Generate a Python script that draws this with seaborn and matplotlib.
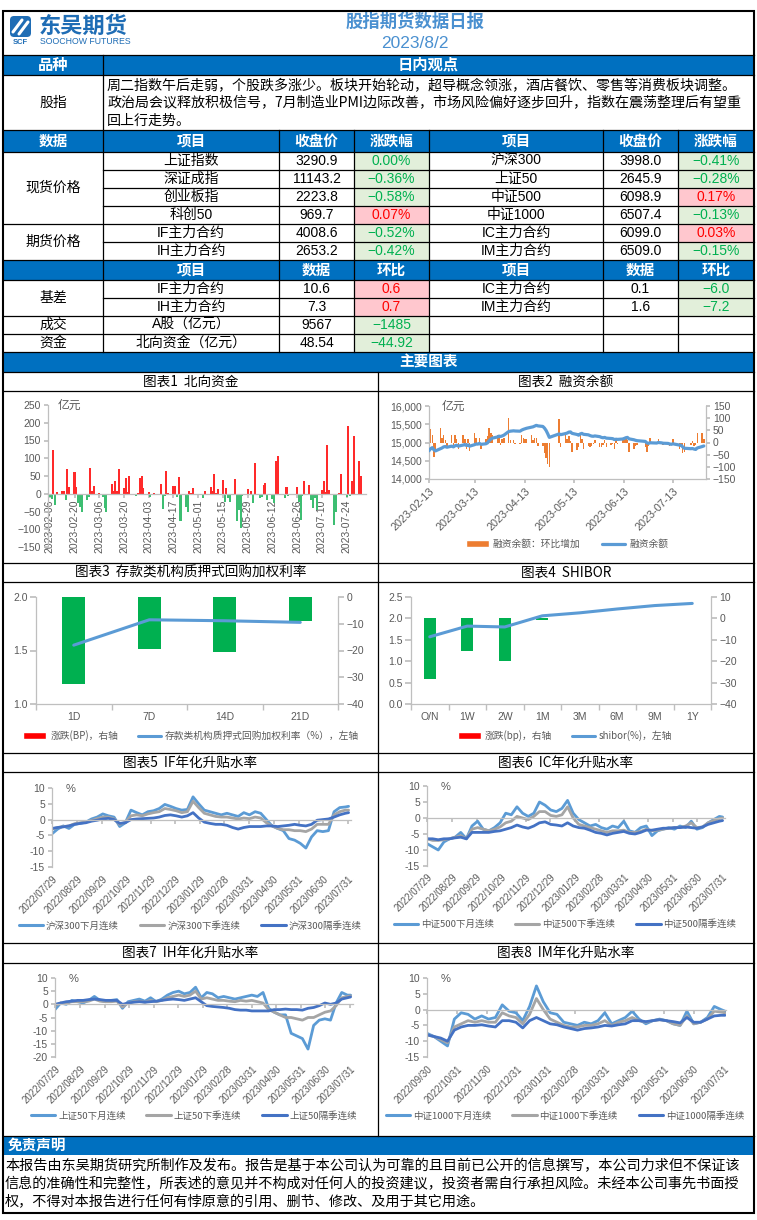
import numpy as np
import pandas as pd
import matplotlib
matplotlib.use('Agg')
import matplotlib.pyplot as plt
import matplotlib.dates as mdates
from matplotlib.patches import Rectangle, Patch, FancyBboxPatch
from matplotlib.lines import Line2D
from matplotlib.ticker import MultipleLocator, FuncFormatter
import seaborn as sns

# ====================== DATA ======================
report_title = '股指期货数据日报'
report_date = '2023/8/2'
view_lines = ['周二指数午后走弱，个股跌多涨少。板块开始轮动，超导概念领涨，酒店餐饮、零售等消费板块调整。',
              '政治局会议释放积极信号，7月制造业PMI边际改善，市场风险偏好逐步回升，指数在震荡整理后有望重',
              '回上行走势。']

hdr_price = ['数据', '项目', '收盘价', '涨跌幅', '项目', '收盘价', '涨跌幅']
hdr_basis = ['', '项目', '数据', '环比', '项目', '数据', '环比']

spot_l_name = ['上证指数', '深证成指', '创业板指', '科创50']
spot_l_close = ['3290.9', '11143.2', '2223.8', '969.7']
spot_l_chg = [0.00, -0.36, -0.58, 0.07]
spot_r_name = ['沪深300', '上证50', '中证500', '中证1000']
spot_r_close = ['3998.0', '2645.9', '6098.9', '6507.4']
spot_r_chg = [-0.41, -0.28, 0.17, -0.13]
fut_l_name = ['IF主力合约', 'IH主力合约']
fut_l_close = ['4008.6', '2653.2']
fut_l_chg = [-0.52, -0.42]
fut_r_name = ['IC主力合约', 'IM主力合约']
fut_r_close = ['6099.0', '6509.0']
fut_r_chg = [0.03, -0.15]
basis_l_name = ['IF主力合约', 'IH主力合约']
basis_l_val = ['10.6', '7.3']
basis_l_chg = [0.6, 0.7]
basis_r_name = ['IC主力合约', 'IM主力合约']
basis_r_val = ['0.1', '1.6']
basis_r_chg = [-6.0, -7.2]
misc_group = ['成交', '资金']
misc_name = ['A股（亿元）', '北向资金（亿元）']
misc_val = ['9567', '48.54']
misc_chg = [-1485, -44.92]

# Chart 1: northbound flow (亿元), one value per trading day 2023-02-06 .. 2023-08-01
nb_holidays = ['2023-04-05', '2023-05-01', '2023-05-02', '2023-05-03', '2023-06-22', '2023-06-23']
nb_flow = [-10, -14, 122, -33, 4,
           7, 7, -19, 70, 20,
           60, 19, -26, -36, -50,
           -17, -10, 72, 8, 21,
           3, -3, -9, -41, -52,
           28, 8, 35, 8, 71,
           16, 43, 4, 49, -3,
           -6, 2, 43, 49, 16,
           5, -8, 2, -3,
           27, -42, -5, 65, 3,
           21, 23, -8, 47, -76,
           -38, -50, 8, 3, 16,
           -12, 8,
           19, 9, 56, 2, 13,
           40, -22, 16, -12, -22,
           42, -78, -45, -97, -5,
           13, -3, 7, -26, 86,
           -12, -8, 24, 30, -17,
           -15, -25, 93, 106, -3,
           -12, 18, -6,
           19, -22, -75, -5, 36,
           25, -17, -41, -12, -45,
           11, 35, 5, 136, 11,
           -88, -50, -3, 2, 57,
           -8, 191, -7, 37, 164,
           93, 49]
nb_ticks = ['2023-02-06', '2023-02-20', '2023-03-06', '2023-03-20', '2023-04-03', '2023-04-17',
            '2023-05-01', '2023-05-15', '2023-05-29', '2023-06-12', '2023-06-26', '2023-07-10', '2023-07-24']

# Chart 2: margin financing balance (亿元), trading days 2023-02-10 .. 2023-08-01
fin_balance = [14720,
               14775, 14830, 14860, 14800, 14770, 14830, 14850, 14880, 14890, 14870, 14900, 14880,
               14910, 14925, 14900, 14930, 14945, 14920, 14935, 14900, 14940, 14960, 14955, 14975,
               14950, 14965, 14990, 15050, 15090, 15120, 15150, 15175, 15165, 15180, 15200,
               15300, 15310, 15320, 15315, 15310, 15340, 15360, 15375, 15390, 15420, 15430, 15450,
               15470, 15455, 15440, 15395, 15330, 15240, 15140,
               15235, 15215, 15245, 15260, 15285, 15290, 15250, 15220, 15200, 15235, 15250, 15225,
               15210, 15190, 15175, 15170, 15180, 15160, 15140, 15130,
               15140, 15120, 15110, 15105, 15080, 15090, 15085, 15095, 15110, 15130, 15140, 15100,
               15075, 15060, 15050, 15030, 14990, 14975, 14995, 14990,
               14985, 15000, 14995, 14990, 14980, 14975, 14960, 14950, 14965, 14955, 14930, 14925,
               14880, 14840, 14840, 14830, 14835, 14820, 14810, 14850, 14890,
               14905]
fin_ticks = ['2023-02-13', '2023-03-13', '2023-04-13', '2023-05-13', '2023-06-13', '2023-07-13']

# Chart 3: deposit-institution pledged repo weighted rate
dep_terms = ['1D', '7D', '14D', '21D']
dep_rate = [1.55, 1.787, 1.778, 1.763]
dep_chg_bp = [-32.6, -19.5, -20.6, -9.0]

# Chart 4: SHIBOR
shibor_terms = ['O/N', '1W', '2W', '1M', '3M', '6M', '9M', '1Y']
shibor_rate = [1.57, 1.82, 1.80, 2.06, 2.13, 2.22, 2.30, 2.35]
shibor_chg_bp = [-28.5, -15.3, -20.0, -0.9, 0.3, 0.0, 0.0, 0.0]

# Charts 5-7: weekly samples from 2022-07-29, last point 2023-08-01 (annualised basis, %)
if_next_month = [-4.5, -3.0, -2.0, -2.8, -1.5, -1.2, -0.8, 0.2, 0.8, 1.8,
                 1.2, 0.8, -2.2, -1.0, 3.0, 2.2, 1.5, 2.5, 2.8, 3.5,
                 4.8, 4.2, 3.5, 3.0, 3.2, 7.2, 5.0, 3.0, 2.5, 2.0,
                 1.5, 2.0, 1.5, 1.0, 2.2, 1.5, 2.5, 2.0, 0.0, -2.0,
                 -2.8, -3.5, -6.0, -6.5, -7.5, -9.0, -5.5, -3.5, -3.8, -3.5,
                 2.5, 3.8, 4.0, 4.2]
if_next_quarter = [-3.0, -2.5, -2.2, -2.0, -1.3, -1.0, -0.8, -0.3, 0.3, 0.8,
                   0.8, 0.2, -1.5, -0.8, 1.2, 1.5, 1.2, 1.8, 2.2, 2.5,
                   3.5, 3.2, 2.8, 2.2, 2.5, 5.8, 3.8, 2.0, 1.5, 1.0,
                   0.8, 0.8, 0.5, 0.2, 0.5, 0.3, 0.8, 0.5, -1.0, -2.0,
                   -2.8, -3.2, -3.2, -3.5, -3.5, -3.8, -3.0, -1.5, -1.5, -1.5,
                   1.5, 2.5, 3.0, 3.0]
if_far_quarter = [-2.8, -2.5, -2.3, -2.0, -1.5, -1.2, -1.0, -0.5, -0.2, 0.2,
                  0.4, 0.0, -1.2, -1.0, 0.0, 0.2, 0.3, 0.4, 0.5, 0.8,
                  1.3, 1.5, 1.2, 0.8, 1.2, 2.2, 0.5, -0.8, -1.2, -1.5,
                  -1.5, -1.8, -2.5, -3.0, -2.5, -2.2, -2.2, -2.2, -2.0, -2.0,
                  -2.2, -2.0, -1.8, -1.5, -1.8, -2.0, -1.5, -0.2, 0.0, 0.2,
                  0.8, 1.5, 2.0, 2.2]
ic_next_month = [-8.0, -9.0, -10.0, -7.5, -6.5, -6.0, -4.5, -6.5, -2.5, -1.0,
                 -3.5, -4.0, -3.0, -1.5, 1.5, 1.0, 3.5, 1.5, 0.5, 1.5,
                 5.0, 4.0, 2.5, 2.0, 3.0, 5.5, 1.5, -0.5, -1.5, -2.5,
                 -2.0, -3.0, -3.5, -2.5, -3.0, -1.0, -4.0, -4.5, -3.0, -2.5,
                 -5.5, -4.0, -3.5, -3.0, -3.5, -2.5, -3.0, -1.0, -3.5, -3.0,
                 -1.5, -0.5, 0.5, 0.3]
ic_next_quarter = [-6.5, -7.0, -7.0, -6.8, -6.5, -6.0, -5.5, -6.5, -3.5, -3.0,
                   -3.5, -4.0, -3.5, -2.8, -1.5, -1.0, 0.5, 0.0, -0.5, 0.5,
                   2.0, 2.0, 0.8, 0.5, 1.0, 3.5, 0.0, -2.0, -2.5, -3.0,
                   -3.5, -4.0, -4.5, -4.0, -4.0, -3.8, -4.5, -4.5, -4.2, -3.5,
                   -4.0, -3.8, -3.5, -3.2, -3.0, -3.0, -2.5, -1.5, -3.0, -2.8,
                   -1.5, -0.8, -0.2, 0.0]
ic_far_quarter = [-6.5, -6.5, -6.8, -6.5, -6.5, -6.2, -6.0, -6.5, -4.5, -4.5,
                  -4.5, -4.5, -4.2, -4.0, -3.5, -3.0, -2.2, -2.8, -3.2, -2.5,
                  -1.5, -1.2, -2.0, -2.2, -2.5, -1.5, -2.5, -3.0, -3.2, -3.8,
                  -4.5, -4.8, -5.3, -4.8, -4.5, -4.2, -4.8, -5.0, -4.5, -3.8,
                  -3.8, -3.5, -3.2, -3.2, -3.0, -3.0, -2.8, -3.0, -3.2, -2.8,
                  -2.0, -1.5, -1.0, -0.8]
ih_next_month = [-2.0, 0.5, 0.0, 1.5, 1.0, 0.5, 1.5, 3.0, 1.5, 1.0,
                 1.5, 1.8, -1.5, 1.0, 1.5, 2.0, 1.2, 2.5, 1.0, 2.0,
                 3.5, 4.5, 5.0, 4.0, 4.5, 6.5, 2.5, 4.5, 4.0, 2.5,
                 3.0, 2.5, 2.0, 2.5, 3.0, 3.5, 3.0, 4.5, -1.5, -3.0,
                 -4.0, -4.0, -11.0, -12.0, -13.0, -17.0, -8.0, -6.0, -5.5, -6.0,
                 0.5, 4.5, 3.5, 3.5]
ih_next_quarter = [-0.5, 0.5, 0.5, 1.0, 1.0, 1.0, 1.2, 2.0, 1.2, 1.0,
                   1.0, 1.2, -1.0, 0.5, 1.0, 1.2, 0.8, 1.5, 1.0, 1.5,
                   2.5, 3.0, 3.5, 3.0, 3.5, 5.0, 2.0, 2.5, 2.0, 1.5,
                   1.5, 1.2, 1.0, 1.5, 1.2, 1.5, 1.0, 0.5, -2.0, -3.0,
                   -4.0, -5.0, -5.0, -5.5, -6.0, -5.0, -5.0, -4.0, -3.0, -2.5,
                   -0.5, 2.5, 3.0, 3.2]
ih_far_quarter = [0.0, 0.5, 1.0, 1.2, 1.5, 1.5, 1.8, 2.0, 1.8, 1.5,
                  1.5, 1.5, 0.0, 0.5, 0.8, 1.0, 0.8, 1.0, 1.2, 1.5,
                  1.8, 2.0, 1.8, 1.5, 2.0, 2.5, 1.0, -0.5, -0.8, -1.0,
                  -1.2, -1.5, -2.0, -2.2, -2.2, -2.5, -2.5, -2.5, -2.5, -2.0,
                  -2.0, -1.8, -2.0, -2.0, -2.2, -1.5, -1.2, -0.5, 0.5, 0.0,
                  0.5, 2.0, 2.5, 2.8]
# Chart 8: weekly samples from 2022-09-30, last point 2023-08-01
im_next_month = [-7.5, -8.5, -10.0, -11.5, -3.0, -1.0, -1.5, -3.0, -2.0, -3.0,
                 -2.5, 1.5, -0.5, -1.0, -3.5, 1.0, 7.5, 2.5, -1.0, -1.5,
                 -4.0, -4.5, -5.0, -4.0, -4.5, -3.5, -1.0, -4.5, -3.5, -2.5,
                 -0.5, -3.0, -4.5, -3.5, -3.0, -3.5, -4.5, -5.0, -0.5, -4.5,
                 -4.0, -2.5, 1.0, 0.0, -0.5]
im_next_quarter = [-8.0, -8.5, -9.5, -10.5, -5.5, -4.5, -3.5, -4.0, -3.5, -4.0,
                   -4.0, -1.0, -2.0, -2.5, -4.5, -1.5, 3.5, 0.0, -3.0, -4.0,
                   -5.0, -5.5, -5.5, -5.0, -5.0, -4.5, -3.5, -5.0, -4.0, -3.5,
                   -2.5, -3.5, -4.0, -3.5, -3.2, -3.5, -4.5, -5.0, -2.0, -4.5,
                   -4.0, -3.0, -0.5, -0.8, -1.0]
im_far_quarter = [-8.0, -8.5, -9.0, -10.0, -6.5, -5.5, -5.0, -5.0, -4.8, -5.2,
                  -5.5, -3.5, -3.5, -4.0, -5.8, -3.5, -2.5, -3.5, -4.5, -4.8,
                  -5.5, -6.0, -6.5, -6.0, -5.8, -5.5, -5.0, -5.2, -4.8, -4.5,
                  -3.5, -3.5, -3.8, -3.5, -3.2, -3.5, -3.8, -4.2, -2.5, -4.0,
                  -4.0, -3.0, -2.0, -1.8, -1.8]
ticks_5to7 = ['2022-07-29', '2022-08-29', '2022-09-29', '2022-10-29', '2022-11-29', '2022-12-29',
              '2023-01-29', '2023-02-28', '2023-03-31', '2023-04-30', '2023-05-31', '2023-06-30', '2023-07-31']
ticks_8 = ['2022-09-30', '2022-10-31', '2022-11-30', '2022-12-31', '2023-01-31', '2023-02-28',
           '2023-03-31', '2023-04-30', '2023-05-31', '2023-06-30', '2023-07-31']

chart_titles = ['图表1  北向资金', '图表2  融资余额', '图表3  存款类机构质押式回购加权利率', '图表4  SHIBOR',
                '图表5  IF年化升贴水率', '图表6  IC年化升贴水率', '图表7  IH年化升贴水率', '图表8  IM年化升贴水率']
disclaimer = ['本报告由东吴期货研究所制作及发布。报告是基于本公司认为可靠的且目前已公开的信息撰写，本公司力求但不保证该',
              '信息的准确性和完整性，所表述的意见并不构成对任何人的投资建议，投资者需自行承担风险。未经本公司事先书面授',
              '权，不得对本报告进行任何有悖原意的引用、删节、修改、及用于其它用途。']

# ====================== DERIVED ======================
nb_dates = pd.bdate_range('2023-02-06', '2023-08-01').drop(pd.to_datetime(nb_holidays))
fin_dates = pd.bdate_range('2023-02-10', '2023-08-01').drop(pd.to_datetime(nb_holidays))
fin_change = np.diff(fin_balance)
wk_dates = pd.date_range('2022-07-29', '2023-07-28', freq='7D').append(pd.DatetimeIndex(['2023-08-01']))
wk_dates8 = pd.date_range('2022-09-30', '2023-07-28', freq='7D').append(pd.DatetimeIndex(['2023-08-01']))

# ====================== STYLE ======================
sns.set_theme(style='white')
plt.rcParams['font.family'] = ['Liberation Sans', 'Noto Sans CJK SC', 'DejaVu Sans']
plt.rcParams['axes.unicode_minus'] = True

BLUE = '#0070C0'
TG = '#595959'
AXC = '#BFBFBF'
UP = '#FF0000'
DN = '#00B050'
CJK = ['Noto Sans CJK SC', 'DejaVu Sans']
L_LIGHT, L_GRAY, L_DARK = '#5B9BD5', '#A5A5A5', '#4472C4'

W, H = 757, 1220
fig = plt.figure(figsize=(W / 100, H / 100), dpi=100)
fig.patch.set_facecolor('white')
bg = fig.add_axes([0, 0, 1, 1], facecolor='white')
bg.set_xlim(0, W)
bg.set_ylim(H, 0)
bg.axis('off')


def rect(x0, y0, x1, y1, fc):
    bg.add_patch(Rectangle((x0, y0), x1 - x0, y1 - y0, facecolor=fc, edgecolor='none', zorder=1))


def hl(y, x0=3, x1=754, lw=0.9):
    bg.plot([x0, x1], [y, y], color='black', lw=lw, zorder=3, solid_capstyle='projecting')


def vl(x, y0, y1, lw=0.9):
    bg.plot([x, x], [y0, y1], color='black', lw=lw, zorder=3, solid_capstyle='projecting')


def put(x, y, s, size=10, color='black', ha='center', weight='normal', family=None):
    kw = dict(fontsize=size, color=color, ha=ha, va='center', fontweight=weight, zorder=4)
    if family:
        kw['fontfamily'] = family
    bg.text(x, y, s, **kw)


def place(x0, y0, x1, y1):
    return fig.add_axes([x0 / W, 1 - y1 / H, (x1 - x0) / W, (y1 - y0) / H], facecolor='none')


def signed(v, fmt):
    s = format(abs(v), fmt)
    return ('\u2212' + s) if v < 0 else s


# ---------------- header ----------------
bg.add_patch(FancyBboxPatch((10, 16), 21, 21, boxstyle='round,pad=0,rounding_size=4',
                            facecolor='#1F6DB5', edgecolor='none', zorder=2))
bg.plot([13, 22], [32, 20], color='white', lw=2.2, zorder=3)
bg.plot([19, 28], [34, 22], color='white', lw=2.2, zorder=3)
put(20.5, 42.5, 'SCF', 5.5, '#1F6DB5', weight='bold', family='Liberation Sans')
put(39, 26, '东吴期货', 16, '#1F6DB5', ha='left', weight='bold', family=CJK)
put(39.5, 41.5, 'SOOCHOW FUTURES', 6.3, '#1F6DB5', ha='left', family='Liberation Sans')
put(415, 22, report_title, 12.5, '#4A90D0', weight='bold', family=CJK)
put(415, 43, report_date, 12.5, '#4A90D0')

# ---------------- blue bands ----------------
for (y0, y1) in [(55, 75), (130, 152), (260, 280), (352, 372), (1136, 1155)]:
    rect(3, y0, 754, y1, BLUE)

COLS = [3, 103, 279, 354, 429, 603, 678, 754]


def cx(i):
    return (COLS[i] + COLS[i + 1]) / 2


put(cx(0), 65, '品种', 11, 'white', weight='bold', family=CJK)
put((103 + 754) / 2, 65, '日内观点', 11, 'white', weight='bold', family=CJK)
for i, ln in enumerate(view_lines):
    put(107, 86.5 + i * 17, ln, 10.1, ha='left', family=CJK)
put(cx(0), 103, '股指', 10, family=CJK)

for i, h in enumerate(hdr_price):
    put(cx(i), 141, h, 10.5, 'white', weight='bold', family=CJK)
for i, h in enumerate(hdr_basis):
    if h:
        put(cx(i), 270, h, 10.5, 'white', weight='bold', family=CJK)
put((103 + 754) / 2, 362, '主要图表', 10.5, 'white', weight='bold', family=CJK)
put(8, 1145.5, '免责声明', 10.5, 'white', ha='left', weight='bold', family=CJK)


def cell_chg(col, y0, y1, v, txt):
    up = v > 0
    rect(COLS[col], y0, COLS[col + 1], y1, '#FFC7CE' if up else '#E2EFDA')
    put(cx(col), (y0 + y1) / 2, txt, 10, UP if up else DN)


row_edges = [(152, 170), (170, 188), (188, 206), (206, 224)]
for i, (y0, y1) in enumerate(row_edges):
    yc = (y0 + y1) / 2
    put(cx(1), yc, spot_l_name[i], 10)
    put(cx(2), yc, spot_l_close[i], 10)
    cell_chg(3, y0, y1, spot_l_chg[i], signed(spot_l_chg[i], '.2f') + '%')
    put(cx(4), yc, spot_r_name[i], 10)
    put(cx(5), yc, spot_r_close[i], 10)
    cell_chg(6, y0, y1, spot_r_chg[i], signed(spot_r_chg[i], '.2f') + '%')
for i, (y0, y1) in enumerate([(224, 242), (242, 260)]):
    yc = (y0 + y1) / 2
    put(cx(1), yc, fut_l_name[i], 10)
    put(cx(2), yc, fut_l_close[i], 10)
    cell_chg(3, y0, y1, fut_l_chg[i], signed(fut_l_chg[i], '.2f') + '%')
    put(cx(4), yc, fut_r_name[i], 10)
    put(cx(5), yc, fut_r_close[i], 10)
    cell_chg(6, y0, y1, fut_r_chg[i], signed(fut_r_chg[i], '.2f') + '%')
for i, (y0, y1) in enumerate([(280, 298), (298, 316)]):
    yc = (y0 + y1) / 2
    put(cx(1), yc, basis_l_name[i], 10)
    put(cx(2), yc, basis_l_val[i], 10)
    cell_chg(3, y0, y1, basis_l_chg[i], signed(basis_l_chg[i], '.1f'))
    put(cx(4), yc, basis_r_name[i], 10)
    put(cx(5), yc, basis_r_val[i], 10)
    cell_chg(6, y0, y1, basis_r_chg[i], signed(basis_r_chg[i], '.1f'))
for i, (y0, y1) in enumerate([(316, 334), (334, 352)]):
    yc = (y0 + y1) / 2
    put(cx(0), yc, misc_group[i], 10)
    put(cx(1), yc, misc_name[i], 10)
    put(cx(2), yc, misc_val[i], 10)
    cell_chg(3, y0, y1, misc_chg[i], signed(misc_chg[i], 'g'))
put(cx(0), 188, '现货价格', 10)
put(cx(0), 242, '期货价格', 10)
put(cx(0), 298, '基差', 10)

# grid
for y in [55, 75, 130, 152, 224, 260, 280, 316, 334, 352, 372]:
    hl(y)
for y in [170, 188, 206, 242, 298]:
    hl(y, 103, 754)
vl(103, 55, 352)
for x in [279, 354, 429, 603, 678]:
    vl(x, 130, 352)
for y in [391, 563, 582, 753, 772, 943, 963, 1136]:
    hl(y)
vl(378, 372, 1136)
bg.add_patch(Rectangle((3, 11), 751, 1202, facecolor='none', edgecolor='black', lw=1.5, zorder=5))

# chart titles
tpos = [(190.5, 382), (566, 382), (190.5, 573), (566, 573), (190.5, 763), (566, 763), (190.5, 953), (566, 953)]
for (x, y), t in zip(tpos, chart_titles):
    put(x, y, t, 9.8, family=CJK)

# disclaimer
for i, ln in enumerate(disclaimer):
    put(5, 1166 + i * 18, ln, 10.2, ha='left', family=CJK)


def base_style(ax, left=True, right=False):
    ax.spines['top'].set_visible(False)
    ax.spines['left'].set_visible(left)
    ax.spines['right'].set_visible(right)
    for s in ['left', 'right', 'bottom']:
        ax.spines[s].set_color(AXC)
        ax.spines[s].set_linewidth(0.9)
    ax.set_xlabel('')
    ax.set_ylabel('')
    ax.grid(False)


# ---------------- Chart 1 ----------------
ax1 = place(48, 405, 366, 547)
ax1.bar(nb_dates, nb_flow, width=1.15, color=['#FF2A2A' if v > 0 else '#3DBE72' for v in nb_flow], lw=0, zorder=2)
ax1.set_ylim(-150, 250)
ax1.yaxis.set_major_locator(MultipleLocator(50))
ax1.set_xlim(pd.Timestamp('2023-02-05'), pd.Timestamp('2023-08-04'))
ax1.set_xticks(pd.to_datetime(nb_ticks))
ax1.xaxis.set_major_formatter(mdates.DateFormatter('%Y-%m-%d'))
ax1.spines['bottom'].set_position(('data', 0))
base_style(ax1)
ax1.tick_params(axis='y', left=True, labelsize=7.5, labelcolor=TG, length=3, color=AXC, pad=2)
ax1.tick_params(axis='x', bottom=True, labelsize=7.5, labelcolor=TG, length=3, color=AXC, labelrotation=90, pad=1)
for lab in ax1.get_xticklabels():
    lab.set_va('top')
ax1.text(0.03, 1.0, '亿元', transform=ax1.transAxes, fontsize=8.5, color=TG, va='center', ha='left', fontfamily=CJK)

# ---------------- Chart 2 ----------------
ax2 = place(429, 406, 706, 479)
ax2.bar(fin_dates[1:], fin_change, width=0.9, color='#ED7D31', lw=0, zorder=2)
ax2.set_ylim(-150, 150)
ax2.yaxis.set_major_locator(MultipleLocator(50))
ax2.yaxis.tick_right()
ax2b = ax2.twinx()
sns.lineplot(x=fin_dates, y=fin_balance, ax=ax2b, color=L_LIGHT, lw=2.3)
ax2b.set_ylim(14000, 16000)
ax2b.yaxis.set_major_locator(MultipleLocator(500))
ax2b.yaxis.set_major_formatter(FuncFormatter(lambda v, p: f'{v:,.0f}'))
ax2b.yaxis.tick_left()
ax2.set_xlim(pd.Timestamp('2023-02-13'), pd.Timestamp('2023-08-02 08:00'))
ax2.set_xticks(pd.to_datetime(fin_ticks))
ax2.xaxis.set_major_formatter(mdates.DateFormatter('%Y-%m-%d'))
base_style(ax2, left=True, right=True)
base_style(ax2b, left=False, right=False)
ax2b.spines['bottom'].set_visible(False)
ax2.tick_params(axis='y', right=True, left=False, labelright=True, labelleft=False,
                labelsize=7.5, labelcolor=TG, length=3, color=AXC, pad=2)
ax2b.tick_params(axis='y', left=True, right=False, labelleft=True, labelright=False,
                 labelsize=7.5, labelcolor=TG, length=3, color=AXC, pad=2)
ax2.tick_params(axis='x', bottom=True, labelsize=7.8, labelcolor=TG, length=3, color=AXC, pad=2)
for lab in ax2.get_xticklabels():
    lab.set_rotation(45)
    lab.set_ha('right')
    lab.set_va('top')
    lab.set_rotation_mode('anchor')
ax2b.text(0.045, 1.0, '亿元', transform=ax2b.transAxes, fontsize=8.5, color=TG, va='center', ha='left',
          fontfamily=CJK)
fig.legend(handles=[Patch(facecolor='#ED7D31'), Line2D([], [], color=L_LIGHT, lw=2.3)],
           labels=['融资余额：环比增加', '融资余额'], loc='center', bbox_to_anchor=(567 / W, 1 - 544 / H),
           ncol=2, frameon=False, prop={'family': CJK, 'size': 7}, handlelength=2.4, handleheight=0.7,
           columnspacing=2.2, handletextpad=0.4, labelcolor=TG)


# ---------------- Charts 3 & 4 ----------------
def cat_chart(box, terms, rate, chg, rlim, rstep, llim, lstep, legend_labels, legend_cx, bar_w):
    ax = place(*box)
    sns.barplot(x=terms, y=chg, ax=ax, color=DN, width=bar_w, saturation=1, zorder=2)
    for p, v in zip(ax.patches, chg):
        p.set_facecolor(UP if v > 0 else DN)
        p.set_edgecolor('none')
    ax.set_ylim(*rlim)
    ax.yaxis.set_major_locator(MultipleLocator(rstep))
    ax.yaxis.tick_right()
    axb = ax.twinx()
    sns.lineplot(x=np.arange(len(terms)), y=rate, ax=axb, color=L_LIGHT, lw=2.2)
    axb.set_ylim(*llim)
    axb.yaxis.set_major_locator(MultipleLocator(lstep))
    axb.yaxis.set_major_formatter(FuncFormatter(lambda v, p: f'{v:.1f}'))
    axb.yaxis.tick_left()
    ax.set_xlim(-0.5, len(terms) - 0.5)
    ax.set_xticks(np.arange(len(terms)))
    ax.set_xticklabels(terms)
    ax.set_xticks(np.arange(-0.5, len(terms), 1.0), minor=True)
    base_style(ax, left=True, right=True)
    base_style(axb, left=False, right=False)
    axb.spines['bottom'].set_visible(False)
    ax.tick_params(axis='y', right=True, left=False, labelright=True, labelleft=False,
                   labelsize=7.5, labelcolor=TG, length=4, color=AXC, pad=2)
    axb.tick_params(axis='y', left=True, right=False, labelleft=True, labelright=False,
                    labelsize=7.5, labelcolor=TG, length=4, color=AXC, pad=2)
    ax.tick_params(axis='x', which='major', bottom=True, length=0, labelsize=7.5, labelcolor=TG, pad=6)
    ax.tick_params(axis='x', which='minor', bottom=True, length=4, color=AXC)
    fig.legend(handles=[Patch(facecolor=UP), Line2D([], [], color=L_LIGHT, lw=2.2)],
               labels=legend_labels, loc='center', bbox_to_anchor=(legend_cx / W, 1 - 735.5 / H),
               ncol=2, frameon=False, prop={'family': CJK, 'size': 7}, handlelength=2.4, handleheight=0.6,
               columnspacing=2.0, handletextpad=0.4, labelcolor=TG)
    return ax, axb


cat_chart((36, 597, 338, 704), dep_terms, dep_rate, dep_chg_bp, (-40, 0), 10, (1.0, 2.0), 0.5,
          ['涨跌(BP)，右轴', '存款类机构质押式回购加权利率（%），左轴'], 191, 0.31)
cat_chart((411, 597, 711, 704), shibor_terms, shibor_rate, shibor_chg_bp, (-40, 10), 10, (0.0, 2.5), 0.5,
          ['涨跌(bp)，右轴', 'shibor(%)，左轴'], 565, 0.33)


# ---------------- Charts 5-8 ----------------
def spread_chart(box, dates, series, labels, ylim, ticks, xlim, pad, legend_xy):
    ax = place(*box)
    for vals, col in zip(series, [L_LIGHT, L_GRAY, L_DARK]):
        sns.lineplot(x=dates, y=vals, ax=ax, color=col, lw=2.0)
    ax.set_ylim(*ylim)
    ax.yaxis.set_major_locator(MultipleLocator(5))
    ax.yaxis.set_major_formatter(FuncFormatter(lambda v, p: f'{int(round(v))}'))
    ax.set_xlim(pd.Timestamp(xlim[0]), pd.Timestamp(xlim[1]))
    ax.set_xticks(pd.to_datetime(ticks))
    ax.xaxis.set_major_formatter(mdates.DateFormatter('%Y/%m/%d'))
    ax.spines['bottom'].set_position(('data', 0))
    base_style(ax)
    ax.tick_params(axis='y', left=True, labelsize=7.5, labelcolor=TG, length=3, color=AXC, pad=2)
    ax.tick_params(axis='x', bottom=True, labelsize=7, labelcolor=TG, length=3, color=AXC, pad=pad)
    for lab in ax.get_xticklabels():
        lab.set_rotation(45)
        lab.set_ha('right')
        lab.set_va('top')
        lab.set_rotation_mode('anchor')
    ax.text(0.045, 0.985, '%', transform=ax.transAxes, fontsize=8, color=TG, va='center', ha='left')
    fig.legend(handles=[Line2D([], [], color=c, lw=2.2) for c in [L_LIGHT, L_GRAY, L_DARK]],
               labels=labels, loc='center', bbox_to_anchor=(legend_xy[0] / W, 1 - legend_xy[1] / H),
               ncol=3, frameon=False, prop={'family': CJK, 'size': 6.8}, handlelength=2.6,
               columnspacing=2.2, handletextpad=0.3, labelcolor=TG)


spread_chart((52, 788, 351, 867), wk_dates, [if_next_month, if_next_quarter, if_far_quarter],
             ['沪深300下月连续', '沪深300下季连续', '沪深300隔季连续'], (-15, 10), ticks_5to7,
             ('2022-07-29', '2023-08-04'), 36, (190, 925.5))
spread_chart((427, 786, 725, 866), wk_dates, [ic_next_month, ic_next_quarter, ic_far_quarter],
             ['中证500下月连续', '中证500下季连续', '中证500隔季连续'], (-15, 10), ticks_5to7,
             ('2022-07-29', '2023-08-04'), 36, (565, 924))
spread_chart((55, 978, 353, 1057), wk_dates, [ih_next_month, ih_next_quarter, ih_far_quarter],
             ['上证50下月连续', '上证50下季连续', '上证50隔季连续'], (-20, 10), ticks_5to7,
             ('2022-07-29', '2023-08-04'), 40, (194, 1115.5))
spread_chart((427, 978, 726, 1057), wk_dates8, [im_next_month, im_next_quarter, im_far_quarter],
             ['中证1000下月连续', '中证1000下季连续', '中证1000隔季连续'], (-15, 10), ticks_8,
             ('2022-09-30', '2023-08-02'), 36, (565, 1115.5))

fig.savefig('out.png', dpi=100, facecolor='white')
